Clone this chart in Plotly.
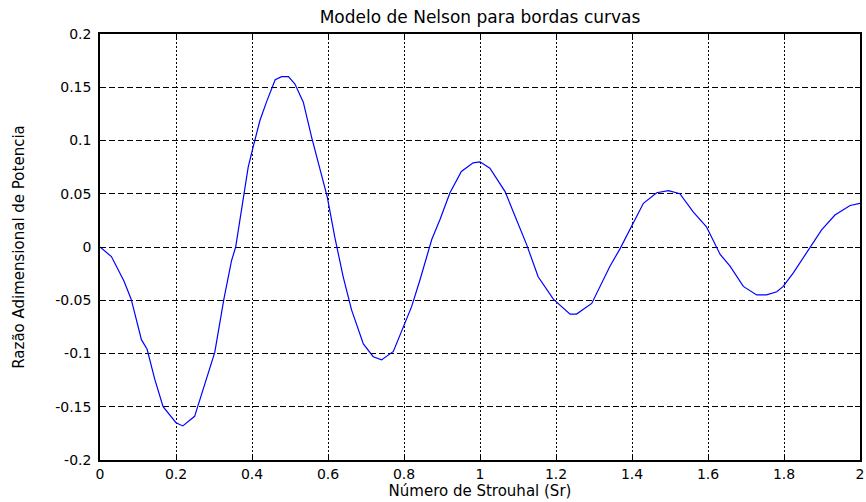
import plotly.graph_objects as go

# Strouhal number (x) and dimensionless power ratio (y)
sr = [0, 0.03, 0.063, 0.082, 0.109, 0.124, 0.144, 0.166, 0.20, 0.218, 0.249, 0.284,
      0.302, 0.326, 0.346, 0.357, 0.377, 0.39, 0.403, 0.421, 0.439, 0.461, 0.478,
      0.496, 0.513, 0.535, 0.557, 0.579, 0.598, 0.618, 0.64, 0.662, 0.693, 0.719,
      0.741, 0.772, 0.798, 0.82, 0.842, 0.873, 0.895, 0.921, 0.951, 0.982, 1.0,
      1.026, 1.066, 1.092, 1.123, 1.153, 1.193, 1.237, 1.254, 1.294, 1.342, 1.368,
      1.395, 1.43, 1.465, 1.496, 1.526, 1.561, 1.596, 1.632, 1.658, 1.693, 1.728,
      1.754, 1.781, 1.798, 1.825, 1.868, 1.899, 1.934, 1.974, 2.0]
power_ratio = [0, -0.009, -0.032, -0.049, -0.087, -0.096, -0.124, -0.150, -0.165,
               -0.168, -0.159, -0.118, -0.099, -0.049, -0.013, 0.0, 0.045, 0.075,
               0.094, 0.119, 0.137, 0.157, 0.160, 0.160, 0.153, 0.136, 0.103, 0.072,
               0.047, 0.009, -0.028, -0.059, -0.091, -0.103, -0.106, -0.098, -0.075,
               -0.056, -0.031, 0.007, 0.026, 0.051, 0.071, 0.079, 0.080, 0.074, 0.052,
               0.029, 0.002, -0.028, -0.049, -0.063, -0.063, -0.053, -0.018, -0.002,
               0.017, 0.041, 0.051, 0.053, 0.050, 0.033, 0.019, -0.007, -0.018, -0.037,
               -0.045, -0.045, -0.042, -0.037, -0.024, -0.001, 0.016, 0.030, 0.039, 0.041]

x_ticks = [0, 0.2, 0.4, 0.6, 0.8, 1, 1.2, 1.4, 1.6, 1.8, 2]
x_tick_labels = ["0", "0.2", "0.4", "0.6", "0.8", "1", "1.2", "1.4", "1.6", "1.8", "2"]
y_ticks = [-0.2, -0.15, -0.1, -0.05, 0, 0.05, 0.1, 0.15, 0.2]
y_tick_labels = ["-0.2", "-0.15", "-0.1", "-0.05", "0", "0.05", "0.1", "0.15", "0.2"]

title_text = "Modelo de Nelson para bordas curvas"
x_title = "Número de Strouhal (Sr)"
y_title = "Razão Adimensional de Potencia"

FONT = "DejaVu Sans"
W, H = 866, 502

fig = go.Figure()
fig.add_trace(go.Scatter(x=sr, y=power_ratio, mode="lines",
                         line=dict(color="#0000ff", width=1.2), showlegend=False))

fig.update_layout(
    width=W, height=H,
    paper_bgcolor="white", plot_bgcolor="white",
    margin=dict(l=100, r=6, t=34, b=42, autoexpand=False),
    font=dict(family=FONT, size=14, color="black"),
    title=dict(text=title_text, x=0.5, xref="paper", xanchor="center",
               y=1 - 17 / H, yref="container", yanchor="middle", automargin=False,
               font=dict(family=FONT, size=17, color="black")),
)

fig.update_xaxes(
    range=[0, 2], tickmode="array", tickvals=x_ticks, ticktext=x_tick_labels,
    showline=True, linecolor="black", linewidth=1.5, mirror="ticks",
    ticks="inside", ticklen=5, tickcolor="black", tickwidth=1,
    showgrid=True, gridcolor="black", gridwidth=1, griddash="2px,2px",
    zeroline=False, tickfont=dict(size=14), automargin=False,
    title=dict(text=x_title, standoff=2, font=dict(size=15)),
)
fig.update_yaxes(
    range=[-0.2, 0.2], tickmode="array", tickvals=y_ticks, ticktext=y_tick_labels,
    showline=True, linecolor="black", linewidth=1.5, mirror="ticks",
    ticks="inside", ticklen=5, tickcolor="black", tickwidth=1,
    showgrid=True, gridcolor="black", gridwidth=1, griddash="6px,3px",
    zeroline=False, tickfont=dict(size=14), automargin=False, ticklabelstandoff=4,
    title=dict(text=y_title, standoff=27, font=dict(size=15)),
)

# remove the page's default body margin so the figure fills the window exactly
fig.write_html(
    "out.html",
    config={"displayModeBar": False},
    post_script="document.body.style.margin='0';document.body.style.overflow='hidden';",
)
